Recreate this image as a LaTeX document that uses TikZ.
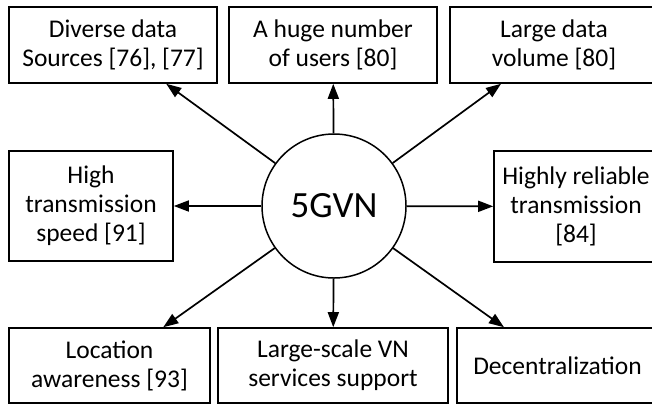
\documentclass[tikz,border=0pt]{standalone}
\usepackage{fontspec}
\setmainfont{Carlito}
\usetikzlibrary{arrows.meta}
\begin{document}
\begin{tikzpicture}[x=1pt,y=-1pt,
  box/.style={draw,line width=1.6pt,rectangle,inner sep=0pt,align=center,
    font=\fontsize{25.5}{29}\selectfont},
  hub/.style={draw,line width=1.5pt,circle,inner sep=0pt,minimum size=144pt,
    font=\fontsize{37}{40}\selectfont},
  conn/.style={line width=1.7pt,-{Triangle[length=15pt,width=11pt]}}]
\useasboundingbox (0,0) rectangle (652,405);
\node[box,minimum width=208pt,minimum height=76pt] (b1) at (113,45) {Diverse data\\Sources [76], [77]};
\node[box,minimum width=208pt,minimum height=76pt] (b2) at (333,45) {A huge number\\of users [80]};
\node[box,minimum width=208pt,minimum height=76pt] (b3) at (554,45) {Large data\\volume [80]};
\node[box,minimum width=164pt,minimum height=110pt] (b4) at (91,206) {High\\transmission\\speed [91]};
\node[box,minimum width=164pt,minimum height=111pt] (b5) at (576,206.5) {Highly reliable\\transmission\\{[84]}};
\node[box,minimum width=201pt,minimum height=75pt] (b6) at (109.5,365.5) {Location\\awareness [93]};
\node[box,minimum width=230pt,minimum height=75pt] (b7) at (333,365.5) {Large-scale VN\\services support};
\node[box,minimum width=201pt,minimum height=75pt] (b8) at (557.5,365.5) {Decentralization};
\node[hub] (c) at (334,206) {5GVN};
\foreach \t in {b1,b2,b3,b4,b5,b6,b7,b8} \draw[conn] (c) -- (\t);
\end{tikzpicture}
\end{document}
